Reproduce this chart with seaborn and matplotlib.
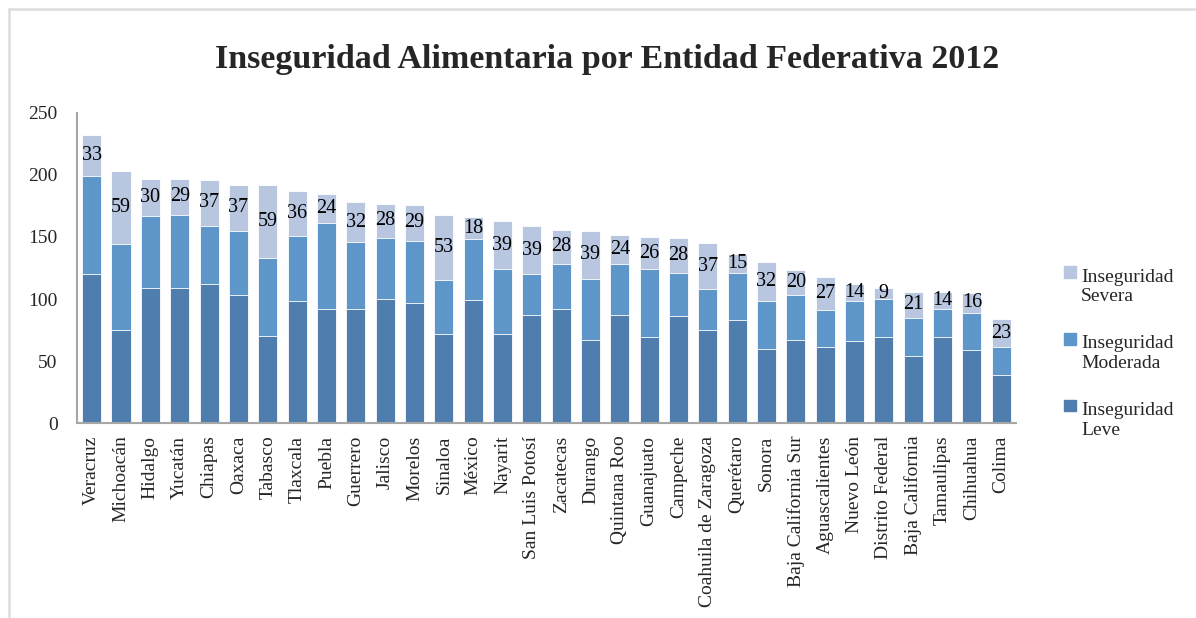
import matplotlib
matplotlib.use("Agg")
import matplotlib.pyplot as plt
import matplotlib.patches as mpatches
from matplotlib.lines import Line2D
from matplotlib.legend_handler import HandlerPatch
import seaborn as sns
import pandas as pd

# values (thousands of households, stacked)
estados = ["Veracruz", "Michoacán", "Hidalgo", "Yucatán", "Chiapas", "Oaxaca",
           "Tabasco", "Tlaxcala", "Puebla", "Guerrero", "Jalisco", "Morelos",
           "Sinaloa", "México", "Nayarit", "San Luis Potosí", "Zacatecas",
           "Durango", "Quintana Roo", "Guanajuato", "Campeche",
           "Coahuila de Zaragoza", "Querétaro", "Sonora", "Baja California Sur",
           "Aguascalientes", "Nuevo León", "Distrito Federal", "Baja California",
           "Tamaulipas", "Chihuahua", "Colima"]
leve = [120, 75, 109, 109, 112, 103, 70, 98, 92, 92, 100, 97,
        72, 99, 72, 87, 92, 67, 87, 69, 86, 75, 83, 60, 67,
        61, 66, 69, 54, 69, 59, 39]
moderada = [79, 69, 58, 59, 47, 52, 63, 53, 69, 54, 49, 50,
            43, 49, 52, 33, 36, 49, 41, 55, 35, 33, 38, 38, 36,
            30, 32, 31, 31, 23, 30, 22]
severa = [33, 59, 30, 29, 37, 37, 59, 36, 24, 32, 28, 29,
          53, 18, 39, 39, 28, 39, 24, 26, 28, 37, 15, 32, 20,
          27, 14, 9, 21, 14, 16, 23]

c_leve = "#4F7DAD"
c_mod = "#5F96C9"
c_sev = "#B8C6E0"

df = pd.DataFrame({"estado": estados, "leve": leve,
                   "moderada": moderada, "severa": severa})
df["lm"] = df["leve"] + df["moderada"]
df["total"] = df["lm"] + df["severa"]

sns.set_style("white")
plt.rcParams["font.family"] = ["Liberation Serif", "DejaVu Serif"]

fig = plt.figure(figsize=(11.96, 6.18), dpi=100)
ax = fig.add_axes([0.0644, 0.3155, 0.785, 0.5017])

# layered totals give the stacked look
sns.barplot(data=df, x="estado", y="total", color=c_sev, width=0.65,
            saturation=1, ax=ax, edgecolor="white", linewidth=0.6)
sns.barplot(data=df, x="estado", y="lm", color=c_mod, width=0.65,
            saturation=1, ax=ax, edgecolor="white", linewidth=0.6)
sns.barplot(data=df, x="estado", y="leve", color=c_leve, width=0.65,
            saturation=1, ax=ax, edgecolor="white", linewidth=0.6)

# severa labels centred in their segment
for i, row in df.iterrows():
    ax.text(i, row["lm"] + row["severa"] / 2, str(row["severa"]),
            ha="center", va="center", fontsize=14.5, color="black")

ax.set_xlim(-0.5, len(estados) - 0.5)
ax.set_ylim(0, 250)
ax.set_yticks(range(0, 251, 50))
ax.set_xlabel("")
ax.set_ylabel("")
ax.tick_params(axis="y", length=0, pad=14, labelsize=14)
ax.tick_params(axis="x", length=0, pad=9, labelsize=14, rotation=90)
for s in ["top", "right"]:
    ax.spines[s].set_visible(False)
for s in ["left", "bottom"]:
    ax.spines[s].set_color("#A6A6A6")
    ax.spines[s].set_linewidth(1.5)

fig.text(0.508, 0.903, "Inseguridad Alimentaria por Entidad Federativa 2012",
         ha="center", va="center", fontsize=24.5, fontweight="bold")


def top_square(legend, orig_handle, xdescent, ydescent, width, height, fontsize):
    s = 0.6 * fontsize
    return mpatches.Rectangle((width - s, height + 0.1 * fontsize), s, s)


handles = [mpatches.Patch(color=c_sev), mpatches.Patch(color=c_mod),
           mpatches.Patch(color=c_leve)]
labels = ["Inseguridad\nSevera", "Inseguridad\nModerada", "Inseguridad\nLeve"]
fig.legend(handles, labels, loc="upper left", bbox_to_anchor=(0.881, 0.578),
           frameon=False, fontsize=14, labelspacing=1.55, handlelength=0.75,
           handletextpad=0.25, borderaxespad=0,
           handler_map={mpatches.Patch: HandlerPatch(patch_func=top_square)})

# light frame around the chart area (top and left edges visible)
fig.add_artist(Line2D([9 / 1196, 1], [1 - 9 / 618, 1 - 9 / 618],
                      color="#DDDDDD", lw=1.8, transform=fig.transFigure))
fig.add_artist(Line2D([9 / 1196, 9 / 1196], [0, 1 - 9 / 618],
                      color="#DDDDDD", lw=1.8, transform=fig.transFigure))

fig.savefig("out.png", dpi=100)
